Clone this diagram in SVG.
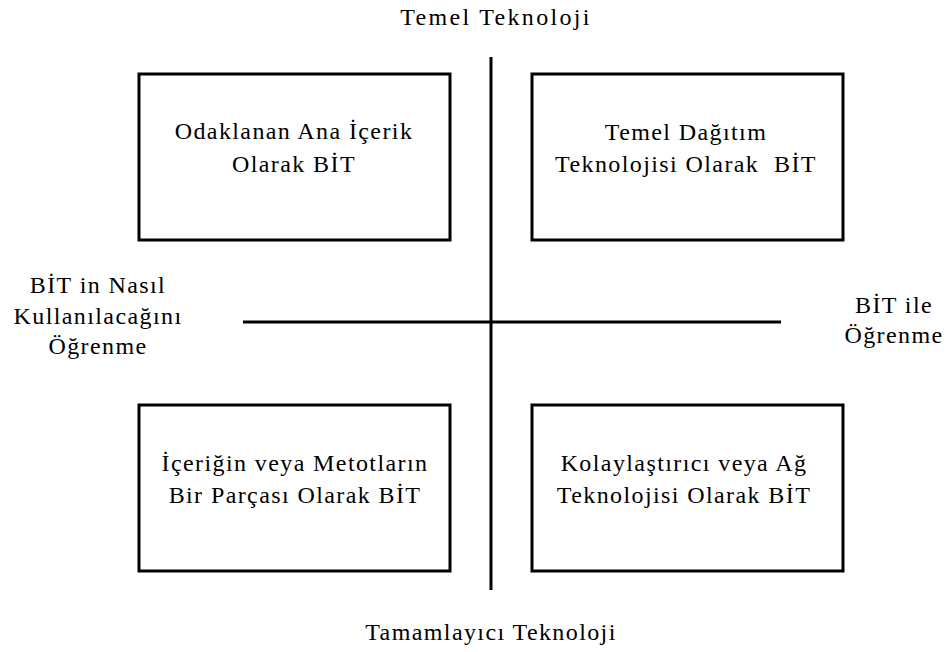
<svg xmlns="http://www.w3.org/2000/svg" width="950" height="652" viewBox="0 0 950 652">
<style>
.bg{fill:#fff}
.box{fill:#fff;stroke:#000;stroke-width:3}
.ax{stroke:#000;stroke-width:3;fill:none}
text{font-family:"Liberation Serif","Times New Roman",serif;font-size:24px;letter-spacing:1.4px;fill:#000;text-anchor:middle}
.wide{letter-spacing:2.3px}
</style>
<rect class="bg" x="0" y="0" width="950" height="652"/>
<g id="connectors">
<line class="ax" x1="491" y1="57" x2="491" y2="590"/>
<line class="ax" x1="243" y1="322" x2="781" y2="322"/>
</g>
<g id="top-label"><text class="wide" x="496" y="25">Temel Teknoloji</text></g>
<g id="bottom-label"><text x="491" y="640">Tamamlayıcı Teknoloji</text></g>
<g id="left-label">
<text x="98" y="293">BİT in Nasıl</text>
<text x="98" y="324">Kullanılacağını</text>
<text x="98" y="354">Öğrenme</text>
</g>
<g id="right-label">
<text x="894" y="313">BİT ile</text>
<text x="894" y="343">Öğrenme</text>
</g>
<g id="node-tl">
<rect class="box" x="139" y="74" width="311" height="166"/>
<text x="294" y="139">Odaklanan Ana İçerik</text>
<text x="294" y="172">Olarak BİT</text>
</g>
<g id="node-tr">
<rect class="box" x="532" y="74" width="311" height="166"/>
<text x="686" y="140">Temel Dağıtım</text>
<text x="686" y="172" xml:space="preserve">Teknolojisi Olarak  BİT</text>
</g>
<g id="node-bl">
<rect class="box" x="139" y="405" width="311" height="166"/>
<text x="295" y="471">İçeriğin veya Metotların</text>
<text x="295" y="503">Bir Parçası Olarak BİT</text>
</g>
<g id="node-br">
<rect class="box" x="532" y="405" width="311" height="166"/>
<text x="684" y="471">Kolaylaştırıcı veya Ağ</text>
<text x="684" y="503">Teknolojisi Olarak BİT</text>
</g>
</svg>
